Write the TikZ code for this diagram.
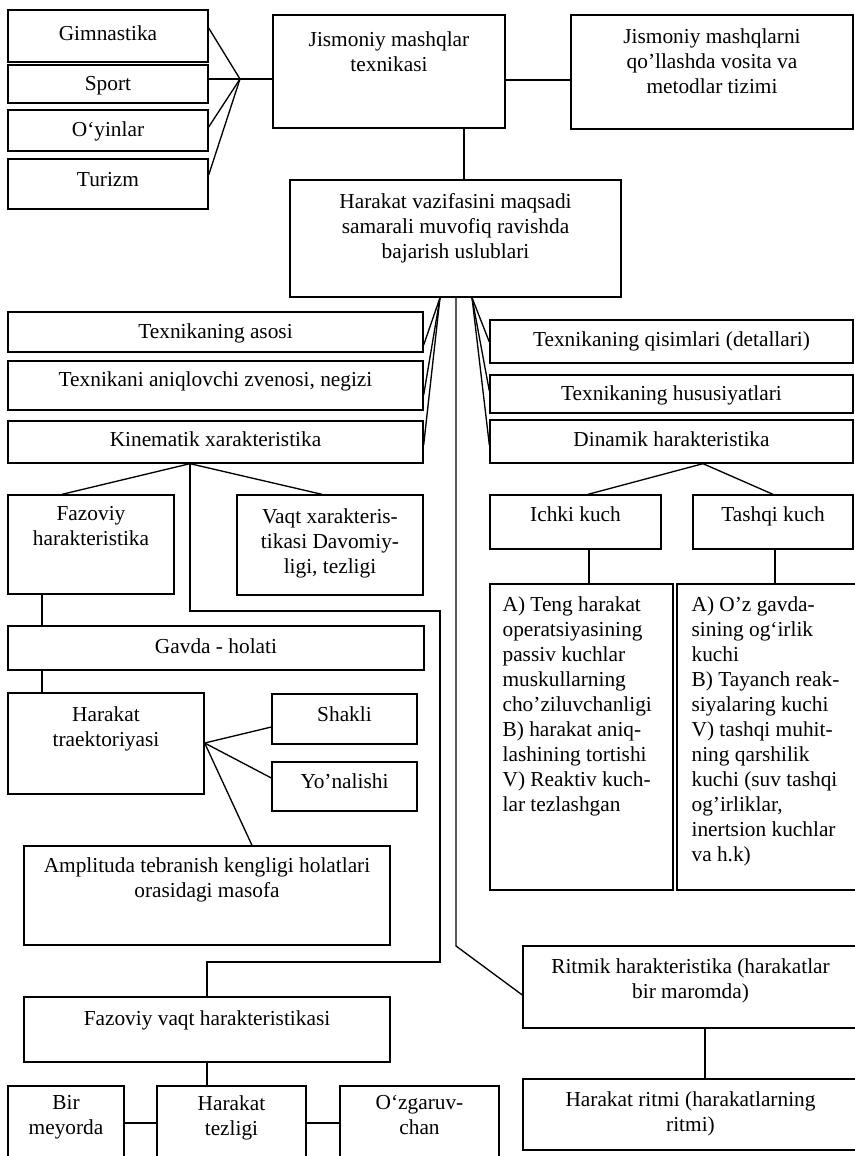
\documentclass[tikz,border=0pt]{standalone}
\usepackage{fontspec}
\setmainfont{Liberation Serif}
\usetikzlibrary{fit,calc}

\tikzset{
  bxs/.style={draw, line width=1pt, inner sep=0pt},
  lbl/.style={inner sep=0pt, align=center, font=\fontsize{16}{18.75}\selectfont},
  lbll/.style={inner sep=0pt, align=left, font=\fontsize{16}{18.75}\selectfont},
  wire/.style={line width=1pt, line join=miter}
}

% box: name, x1, y1, x2, y2, top padding, text (centred)
\newcommand\bx[7]{%
  \node[bxs, fit={(#2,#3) (#4,#5)}] (#1) {};
  \node[lbl, anchor=north] (#1t) at ($(#1.north)+(0,#6)$) {#7};}

\begin{document}
\begin{tikzpicture}[x=0.75pt, y=-0.75pt]
\useasboundingbox (0,0) rectangle (855,1156);
\clip (0,0) rectangle (855,1156);

% top row
\bx{gim}{8}{10}{208}{62}{16}{Gimnastika}
\bx{spo}{8}{65}{208}{103}{12}{Sport}
\bx{oyi}{8}{110}{208}{151}{12}{O‘yinlar}
\bx{tur}{8}{159}{208}{209}{14}{Turizm}
\bx{jmt}{273}{15}{505}{128}{17}{Jismoniy mashqlar\\texnikasi}
\bx{jmm}{571}{15}{853}{129}{14}{Jismoniy mashqlarni\\qo’llashda vosita va\\metodlar tizimi}
\bx{hvm}{290}{180}{621}{297}{14}{Harakat vazifasini maqsadi\\samarali muvofiq ravishda\\bajarish uslublari}

% left branch
\bx{tas}{8}{312}{423}{352}{12}{Texnikaning asosi}
\bx{tan}{8}{361}{423}{410}{11}{Texnikani aniqlovchi zvenosi, negizi}
\bx{kin}{8}{421}{423}{463}{11}{Kinematik xarakteristika}
\bx{fh}{8}{495}{174}{594}{12}{Fazoviy\\harakteristika}
\bx{vx}{237}{495}{423}{595}{14}{Vaqt xarakteris-\\tikasi Davomiy-\\ligi, tezligi}
\bx{gh}{8}{626}{424}{670}{13}{Gavda - holati}
\bx{ht}{8}{693}{204}{794}{14}{Harakat\\traektoriyasi}
\bx{sh}{272}{694}{417}{744}{13}{Shakli}
\bx{yo}{272}{762}{417}{811}{12}{Yo’nalishi}
\bx{amp}{24}{846}{390}{945}{12}{Amplituda tebranish kengligi holatlari\\orasidagi masofa}
\bx{fvh}{24}{997}{390}{1062}{14}{Fazoviy vaqt harakteristikasi}
\bx{bm}{8}{1086}{124}{1170}{10}{Bir\\meyorda}
\bx{hte}{157}{1086}{306}{1170}{10}{Harakat\\tezligi}
\bx{oz}{340}{1086}{499}{1170}{10}{O‘zgaruv-\\chan}

% right branch
\bx{tq}{490}{320}{853}{363}{12}{Texnikaning qisimlari (detallari)}
\bx{th}{490}{375}{853}{413}{11}{Texnikaning hususiyatlari}
\bx{dh}{490}{420}{853}{463}{12}{Dinamik harakteristika}
\bx{ich}{490}{495}{661}{549}{12}{Ichki kuch}
\bx{tsh}{693}{495}{853}{549}{12}{Tashqi kuch}
\node[bxs, fit={(490,584) (673,890)}] (at) {};
\node[lbll, anchor=north west] (att) at ($(at.north west)+(13,13)$)
  {A) Teng harakat\\operatsiyasining\\passiv kuchlar\\muskullarning\\cho’ziluvchanligi\\B) harakat aniq-\\lashining tortishi\\V) Reaktiv kuch-\\lar tezlashgan};
\node[bxs, fit={(677,584) (858,890)}] (ao) {};
\node[lbll, anchor=north west] (aot) at ($(ao.north west)+(15,13)$)
  {A) O’z gavda-\\sining og‘irlik\\kuchi\\B) Tayanch reak-\\siyalaring kuchi\\V) tashqi muhit-\\ning qarshilik\\kuchi (suv tashqi\\og’irliklar,\\inertsion kuchlar\\va h.k)};
\bx{rh}{523}{946}{858}{1028}{13}{Ritmik harakteristika (harakatlar\\bir maromda)}
\bx{hr}{523}{1079}{858}{1150}{13}{Harakat ritmi (harakatlarning\\ritmi)}

% connectors: sports fan
\coordinate (hub) at (240,79);
\draw[wire] (gim.east |- 0,28) -- (hub);
\draw[wire] (spo.east |- hub) -- (hub) -- (jmt.west |- hub);
\draw[wire] (oyi.east |- 0,127) -- (hub);
\draw[wire] (tur.east |- 0,175) -- (hub);
\draw[wire] (jmt.east |- 0,80) -- (jmm.west |- 0,80);
\draw[wire] (jmt.south -| 464,0) -- (hvm.north -| 464,0);

% fans under the central box
\draw[wire] (hvm.south -| 440,0) -- (tas.east |- 0,345);
\draw[wire] (hvm.south -| 440,0) -- (tan.east |- 0,395);
\draw[wire] (hvm.south -| 440,0) -- (kin.east |- 0,445);
\draw[wire] (hvm.south -| 472,0) -- (tq.west |- 0,342);
\draw[wire] (hvm.south -| 472,0) -- (th.west |- 0,391);
\draw[wire] (hvm.south -| 472,0) -- (dh.west |- 0,445);
\draw[wire] (hvm.south -| 456,0) -- (456,946) -- (rh.west |- 0,995);
\draw[wire] (rh.south -| 705,0) -- (hr.north -| 705,0);

% kinematic branch
\draw[wire] (kin.south -| 190,0) -- (fh.north -| 62,0);
\draw[wire] (kin.south -| 190,0) -- (vx.north -| 322,0);
\draw[wire] (kin.south -| 190,0) -- (190,611) -- (440,611) -- (440,962)
  -- (207,962) -- (fvh.north -| 207,0);
\draw[wire] (fh.south -| 42,0) -- (gh.north -| 42,0);
\draw[wire] (gh.south -| 42,0) -- (ht.north -| 42,0);
\draw[wire] (ht.east |- 0,743) -- (sh.west |- 0,727);
\draw[wire] (ht.east |- 0,743) -- (yo.west |- 0,778);
\draw[wire] (ht.east |- 0,743) -- (amp.north -| 252,0);
\draw[wire] (fvh.south -| 207,0) -- (hte.north -| 207,0);
\draw[wire] (bm.east |- 0,1123) -- (hte.west |- 0,1123);
\draw[wire] (hte.east |- 0,1123) -- (oz.west |- 0,1123);

% dynamic branch
\draw[wire] (dh.south -| 703,0) -- (ich.north -| 588,0);
\draw[wire] (dh.south -| 703,0) -- (tsh.north -| 773,0);
\draw[wire] (ich.south -| 589,0) -- (at.north -| 589,0);
\draw[wire] (tsh.south -| 775,0) -- (ao.north -| 775,0);
\end{tikzpicture}
\end{document}
